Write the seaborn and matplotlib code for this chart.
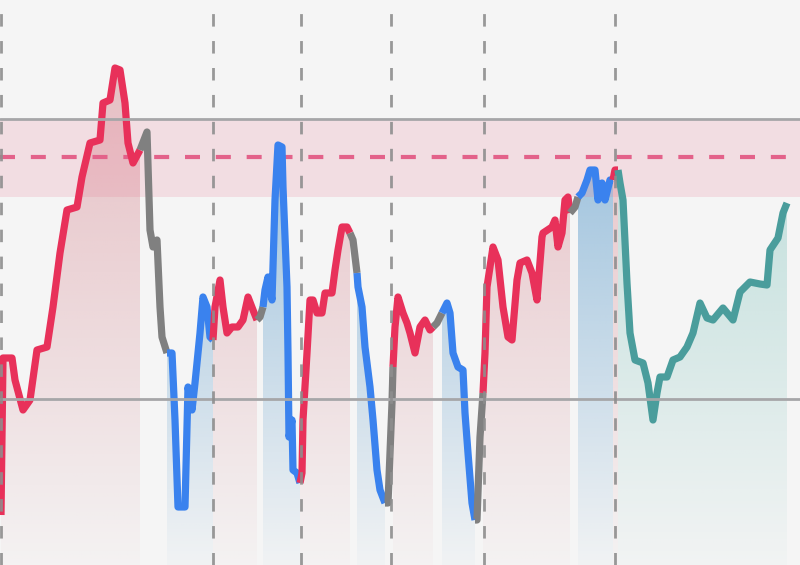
import numpy as np
import matplotlib.pyplot as plt
import seaborn as sns
from matplotlib.colors import to_rgb

# oscillator path (x = bar index, y = oscillator level)
days = [1, 3, 12, 15, 23, 30, 37, 47, 53, 60, 67, 77, 82, 90, 100, 103, 110, 115, 120, 125, 128, 133, 140,
        147, 150, 153, 157, 160, 162, 167,
        172, 175, 178, 185, 188, 192, 195, 200, 203, 207, 210, 213,
        215, 220, 223, 227, 232, 238, 243, 248, 253, 257,
        260, 263,
        265, 268, 272, 275, 278, 282, 283, 287, 288, 289, 292, 293, 297, 300,
        302, 303, 307, 310, 313, 317, 322, 325, 332, 335, 338, 342, 347, 350,
        353, 357,
        358, 362, 365, 370, 373, 377, 380, 385,
        388, 390, 392, 393,
        395, 398, 403, 407, 410, 415, 420, 425, 430, 433,
        437, 442,
        447, 450, 453, 458, 463, 465, 468, 472, 475,
        477, 480, 483,
        485, 487, 493, 498, 503, 508, 512, 517, 520, 527, 532, 537, 542, 543, 552, 555, 558, 562, 565, 568, 570,
        575, 578,
        582, 587, 590, 595, 598, 602, 605, 610, 613,
        615, 618,
        620, 623, 627, 630, 635, 643, 648, 653, 657, 660, 667, 673, 680, 687, 693, 700, 707, 713, 723, 733,
        740, 750, 760, 767, 770, 778, 783, 787]
level = [-116, 41, 41, 19, -11, -1, 49, 52, 92, 146, 189, 192, 222, 256, 259, 296, 299, 331, 329, 296, 256, 236, 249,
         267, 169, 152, 159, 92, 62, 46,
         46, -21, -108, -108, 12, -11, 16, 66, 102, 92, 62, 59,
         92, 119, 92, 66, 72, 72, 79, 102, 89, 79,
         82, 92,
         109, 122, 99, 199, 254, 252, 212, 112, 46, -38, -21, -71, -74, -84,
         -74, -21, 46, 99, 99, 86, 86, 106, 106, 129, 149, 172, 172, 166,
         159, 126,
         112, 92, 52, 12, -21, -71, -91, -104,
         -104, -54, -4, 32,
         72, 102, 86, 76, 66, 46, 72, 79, 69, 72,
         76, 86,
         96, 86, 46, 32, 29, -14, -54, -104, -121,
         -121, -38, 6,
         46, 112, 152, 139, 92, 62, 59, 119, 136, 139, 126, 99, 162, 166, 172, 179, 152, 166, 199, 202, 186,
         192, 202,
         206, 219, 229, 229, 199, 216, 199, 219, 219,
         229, 229,
         216, 199, 116, 66, 39, 36, 16, -21, 6, 22, 22, 39, 42, 52, 66, 96, 81, 79, 91, 79,
         107, 117, 115, 114, 149, 161, 186, 196]

# regimes: where each one starts, and what it is
phase_start = [1, 140, 167, 213, 257, 263, 300, 350, 357, 385, 393, 433, 442, 475, 483, 570, 578, 613, 618]
phase_kind = ['up', 'flat', 'down', 'up', 'flat', 'down', 'up', 'flat', 'down', 'flat',
              'up', 'flat', 'down', 'flat', 'up', 'flat', 'down', 'up', 'late']
phase_end = 787

events = [1, 213, 301, 391, 484, 615]
zero_level = 0
upper_level = 280
zone = (202, 280)
zone_mid = 242

line_col = {'up': '#e8315a', 'down': '#3a82ee', 'flat': '#808080', 'late': '#4a9d9c'}
fill_col = {'up': '#d98f98', 'down': '#5c9ccc', 'late': '#80c4bd'}
fill_top = {'up': 0.6, 'down': 0.75, 'late': 0.6}

YLO, YHI = -166, 399

sns.set_style('white')
fig = plt.figure(figsize=(8, 5.65), dpi=100, facecolor='#f5f5f5')
ax = fig.add_axes([0, 0, 1, 1])
ax.set_facecolor('#f5f5f5')

x = np.array(days)
y = np.array(level)

ends = phase_start[1:] + [phase_end]
for s, e, kind in zip(phase_start, ends, phase_kind):
    m = (x >= s) & (x <= e)
    xs, ys = x[m], y[m]
    if kind != 'flat':
        # vertical gradient under the coloured stretch
        poly = ax.fill_between(xs, ys, YLO, facecolor='none', edgecolor='none')
        rgba = np.zeros((256, 1, 4))
        rgba[..., :3] = to_rgb(fill_col[kind])
        rgba[..., 3] = np.linspace(fill_top[kind], 0.03, 256)[:, None]
        img = ax.imshow(rgba, extent=[xs[0], xs[-1], YLO, YHI], aspect='auto',
                        origin='upper', zorder=1, interpolation='bilinear')
        img.set_clip_path(poly.get_paths()[0], ax.transData)
    sns.lineplot(x=xs, y=ys, color=line_col[kind], linewidth=5.2, sort=False,
                 estimator=None, ax=ax, zorder=4, solid_joinstyle='round',
                 solid_capstyle='butt')

ax.axhspan(zone[0], zone[1], color='#e8748f', alpha=0.18, lw=0, zorder=2)
ax.axhline(zone_mid, color='#e3628a', lw=3, dashes=(3.6, 3.8), zorder=3)
for lv in (zero_level, upper_level):
    ax.axhline(lv, color='#a6a6a8', lw=2, zorder=5)
for ev in events:
    ax.axvline(ev, color='#8e8e8e', lw=2, dashes=(4.5, 5.2), zorder=5, alpha=0.9)

ax.set_xlim(0, 800)
ax.set_ylim(YLO, YHI)
ax.set_axis_off()

fig.savefig('out.png', dpi=100, facecolor=fig.get_facecolor())
